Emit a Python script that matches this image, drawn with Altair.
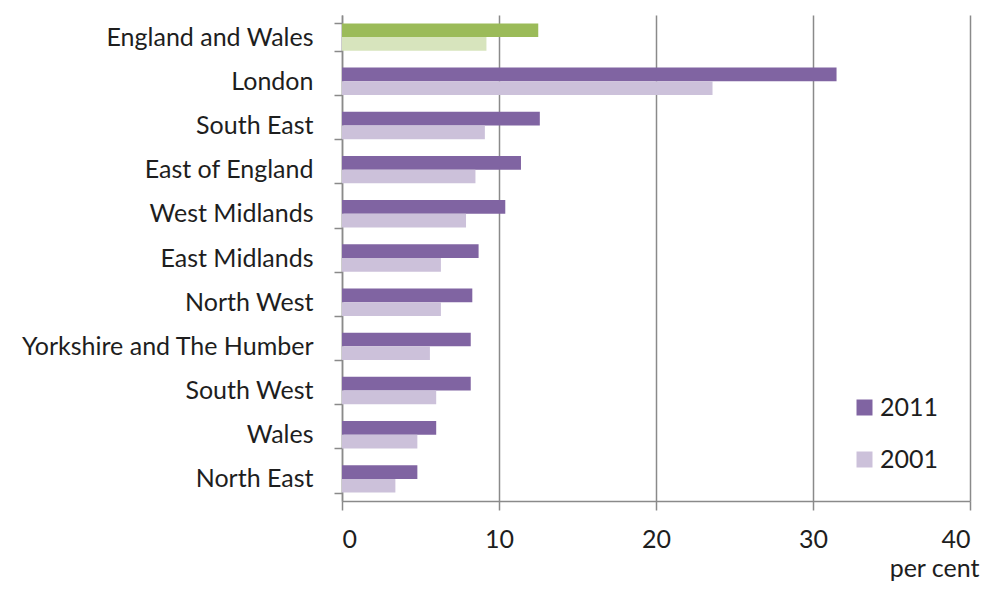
import altair as alt
import pandas as pd

regions = ["England and Wales", "London", "South East", "East of England", "West Midlands",
           "East Midlands", "North West", "Yorkshire and The Humber", "South West", "Wales", "North East"]
v2011 = [12.5, 31.5, 12.6, 11.4, 10.4, 8.7, 8.3, 8.2, 8.2, 6.0, 4.8]
v2001 = [9.2, 23.6, 9.1, 8.5, 7.9, 6.3, 6.3, 5.6, 6.0, 4.8, 3.4]
years = ["2011", "2001"]

keys = ["2011", "2001", "EW 2011", "EW 2001"]
colors = ["#8064A2", "#CCC1DA", "#9BBB59", "#D7E4BD"]

rows = []
for r, a, b in zip(regions, v2011, v2001):
    for y, v in zip(years, [a, b]):
        k = ("EW " + y) if r == "England and Wales" else y
        rows.append({"region": r, "year": y, "value": v, "key": k})
df = pd.DataFrame(rows)

FONT = "Lato"
TXT = "#1e1e1e"
GRID = "#8a8a8a"
FS = 25

chart = alt.Chart(df).mark_bar().encode(
    x=alt.X("value:Q", scale=alt.Scale(domain=[0, 40], nice=False),
            axis=alt.Axis(values=[0, 10, 20, 30, 40], title="per cent", grid=True,
                          gridColor=GRID, gridWidth=1.5, domainColor=GRID, domainWidth=1.5,
                          tickColor=GRID, tickWidth=1.5, tickSize=9, labelPadding=17,
                          labelFont=FONT, labelFontSize=FS, labelColor=TXT,
                          titleFont=FONT, titleFontSize=FS, titleFontWeight="normal",
                          titleColor=TXT, titleAnchor="end", titleAlign="right",
                          titleBaseline="alphabetic", titleX=637, titleY=75)),
    y=alt.Y("region:N", sort=regions,
            scale=alt.Scale(paddingInner=0.38, paddingOuter=0.19),
            axis=alt.Axis(title=None, tickBand="extent", domainColor=GRID, domainWidth=1.5,
                          tickColor=GRID, tickWidth=1.5, tickSize=8, labelPadding=21,
                          labelLimit=0,
                          labelFont=FONT, labelFontSize=FS, labelColor=TXT)),
    yOffset=alt.YOffset("year:N", sort=years),
    color=alt.Color("key:N", scale=alt.Scale(domain=keys, range=colors),
                    legend=alt.Legend(values=["2011", "2001"], title=None, orient="none",
                                      legendX=510, legendY=380, symbolType="square",
                                      symbolSize=256, symbolStrokeWidth=0,
                                      labelFont=FONT, labelFontSize=FS, labelColor=TXT,
                                      labelOffset=3, rowPadding=26)),
).properties(
    width=628, height=486,
    autosize=alt.AutoSizeParams(type="none"),
    padding={"left": 334, "top": 7, "right": 11, "bottom": 80},
).configure_view(stroke=None)

chart.save("out.html", embed_options={"renderer": "svg", "actions": False})
